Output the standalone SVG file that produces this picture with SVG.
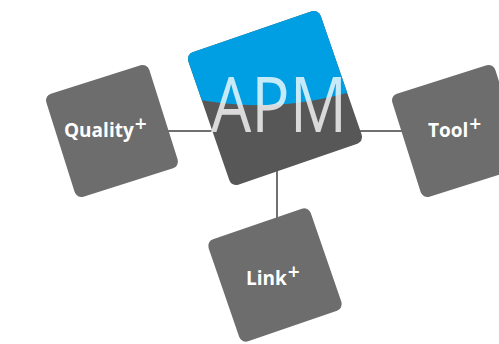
<svg xmlns="http://www.w3.org/2000/svg" width="499" height="344" viewBox="0 0 499 344">
<style>
.box{fill:#6d6d6d}
.lbl{font-family:"Open Sans","DejaVu Sans",sans-serif;font-weight:bold;font-size:19px;fill:#ffffff}
.plus{font-weight:600;font-size:21px}
.conn{stroke:#707070;stroke-width:2;fill:none}
</style>
<defs>
<clipPath id="apmclip"><rect x="-70" y="-70" width="140" height="140" rx="7" transform="translate(275 98) rotate(-19)"/></clipPath>
</defs>
<rect width="499" height="344" fill="#ffffff"/>
<g id="connectors">
<line class="conn" x1="150" y1="131" x2="440" y2="131"/>
<line class="conn" x1="277" y1="150" x2="277" y2="250"/>
</g>
<g id="node-quality">
<rect class="box" x="-54" y="-54" width="108" height="108" rx="7" transform="translate(112 131) rotate(-17.5)"/>
<text class="lbl" x="64" y="137">Quality<tspan class="plus" dx="1" dy="-6">+</tspan></text>
</g>
<g id="node-tool">
<rect class="box" x="-54" y="-54" width="108" height="108" rx="7" transform="translate(458 131) rotate(-17.5)"/>
<text class="lbl" x="428" y="137">Tool<tspan class="plus" dx="1" dy="-6">+</tspan></text>
</g>
<g id="node-link">
<rect class="box" x="-54" y="-54" width="108" height="108" rx="7" transform="translate(275 275) rotate(-19)"/>
<text class="lbl" x="246" y="285">Link<tspan class="plus" dx="1" dy="-6">+</tspan></text>
</g>
<g id="node-apm">
<rect x="-70" y="-70" width="140" height="140" rx="7" fill="#575757" transform="translate(275 98) rotate(-19)"/>
<path d="M150 0 L400 0 L400 86 L360 89 Q275 116 190 98 L150 96 Z" fill="#009fe3" clip-path="url(#apmclip)"/>
<text x="211" y="132" font-family="'Open Sans','Liberation Sans',sans-serif" font-weight="normal" font-size="76" fill="#ffffff" fill-opacity="0.78" textLength="136" lengthAdjust="spacingAndGlyphs">APM</text>
</g>
</svg>
